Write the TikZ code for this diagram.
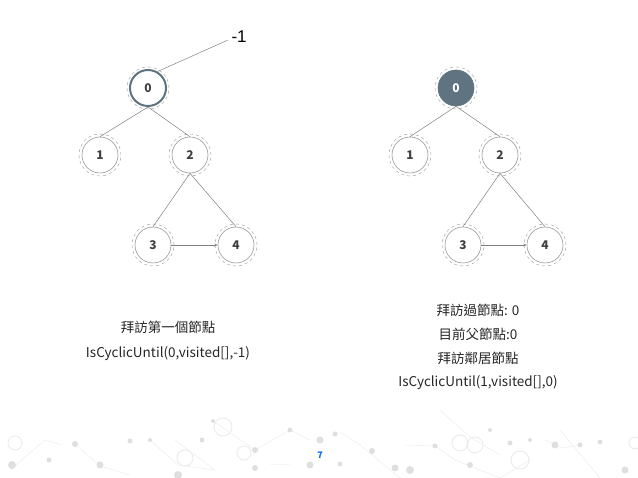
\documentclass[tikz,border=0pt]{standalone}
\usepackage{fontspec}
\setmainfont{Noto Sans CJK TC}
\newfontfamily\arialf{Liberation Sans}
\definecolor{slate}{HTML}{5F7380}
\begin{document}
\begin{tikzpicture}[x=1pt,y=-1pt,
  vtx/.style={circle,draw=gray!80,line width=0.6pt,minimum size=36pt,inner sep=0pt,font=\bfseries\fontsize{12}{14}\selectfont,text=black!75},
  ring/.style={circle,draw=gray!70,dashed,line width=0.5pt,minimum size=42pt},
  cur/.style={draw=slate,line width=2pt},
  done/.style={fill=slate,draw=slate,text=white},
  edge/.style={draw=gray,line width=0.5pt},
  lbl/.style={font=\fontsize{13.5}{16}\selectfont,text=black!85},
  deco/.style={fill=gray!25,draw=none},
  decol/.style={draw=gray!15,line width=0.5pt}]
\useasboundingbox (0,0) rectangle (638,478);
% background decoration
\foreach \a/\b/\c/\d in {10/470/45/440, 45/440/62/445, 75/444/100/466, 100/466/130/475, 150/440/178/465, 178/465/215/470, 215/470/175/440, 213/421/255/450, 255/450/290/430, 290/430/310/440, 340/432/360/445, 360/445/400/478, 405/445/435/446, 435/446/455/460, 455/460/500/478, 500/478/530/460, 440/410/470/437, 470/437/500/455, 545/440/563/448, 563/448/580/445, 560/430/600/478, 270/464/290/465}
  \draw[decol] (\a,\b) -- (\c,\d);
\foreach \p/\r in {{12,465}/4, {75,444}/3, {100,465}/3.5, {130,441}/2.5, {150,440}/2, {178,475}/4, {202,440}/2.5, {213,421}/2, {255,450}/3, {290,430}/2.5, {320,440}/3.5, {335,434}/2.5, {255,468}/3, {310,465}/3.5, {340,464}/2.5, {372,451}/3, {395,468}/3.5, {435,446}/2.5, {470,465}/3, {555,445}/3.5, {580,445}/2.5, {600,442}/2.5, {490,430}/2, {510,443}/2.5, {530,440}/2, {625,470}/3.5, {410,470}/4, {49,460}/2.5}
  \fill[deco] (\p) circle (\r);
\foreach \p/\r in {{15,443}/7, {223,427}/9, {244,453}/7, {460,443}/8, {475,445}/8, {520,460}/9, {635,443}/6, {185,458}/8}
  \draw[decol,line width=1pt] (\p) circle (\r);
% left graph
\foreach \n/\x/\y in {0/148/88,1/100/155,2/190/155,3/153/245,4/236/245}{
  \node[ring] at (\x,\y) {};
}
\node[vtx,cur] (a0) at (148,88) {0};
\node[vtx] (a1) at (100,155) {1};
\node[vtx] (a2) at (190,155) {2};
\node[vtx] (a3) at (153,245) {3};
\node[vtx] (a4) at (236,245) {4};
\coordinate (m1) at (228,40);
\node[font=\arialf\fontsize{17}{20}\selectfont,anchor=west] (mn) at (228,37) {-1};
\draw[edge] (a0.60) -- (m1);
\draw[edge] (a0.south) -- (a1.north);
\draw[edge] (a0.south) -- (a2.north);
\draw[edge] (a2.south) -- (a3.north);
\draw[edge] (a2.south) -- (a4.north);
\draw[edge,->,>=stealth] (a3.east) -- (a4.west);
% right graph
\foreach \n/\x/\y in {0/456/88,1/410/155,2/500/155,3/463/245,4/545/245}{
  \node[ring] at (\x,\y) {};
}
\node[vtx,done] (b0) at (456,88) {0};
\node[vtx] (b1) at (410,155) {1};
\node[vtx] (b2) at (500,155) {2};
\node[vtx] (b3) at (463,245) {3};
\node[vtx] (b4) at (545,245) {4};
\draw[edge] (b0.south) -- (b1.north);
\draw[edge] (b0.south) -- (b2.north);
\draw[edge] (b2.south) -- (b3.north);
\draw[edge] (b2.south) -- (b4.north);
\draw[edge,->,>=stealth] (b3.east) -- (b4.west);
% texts
\node[lbl] (t1) at (168,327) {拜訪第一個節點};
\node[lbl] (t2) at (168,354) {IsCyclicUntil(0,visited[],-1)};
\node[lbl] (r1) at (478,310) {拜訪過節點: 0};
\node[lbl] (r2) at (478,334) {目前父節點:0};
\node[lbl] (r3) at (478,358) {拜訪鄰居節點};
\node[lbl] (r4) at (478,383) {IsCyclicUntil(1,visited[],0)};
\node[font=\bfseries\fontsize{9}{10}\selectfont,text=blue!60!cyan] (pg) at (320,455) {7};
\end{tikzpicture}
\end{document}
